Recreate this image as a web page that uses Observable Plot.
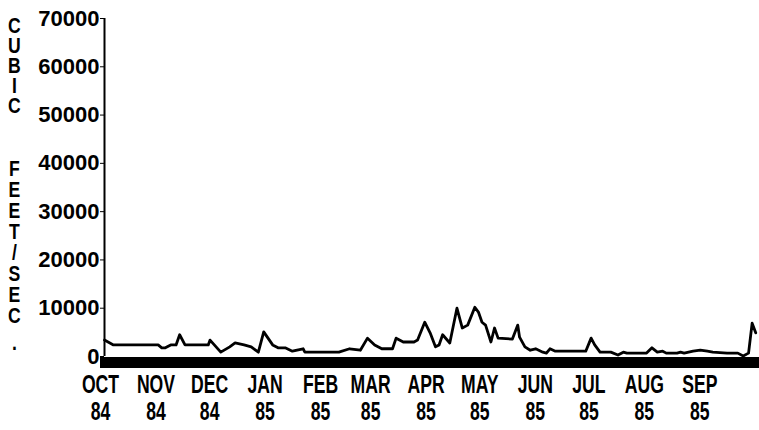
<!DOCTYPE html>
<html><head><meta charset="utf-8">
<script src="https://cdn.jsdelivr.net/npm/d3@7"></script>
<script src="https://cdn.jsdelivr.net/npm/@observablehq/plot@0.6"></script>
<style>
html,body{margin:0;padding:0;background:#fff;}
#wrap{position:relative;width:759px;height:430px;}
#chart svg{display:block;}
.ytitle{position:absolute;left:3px;writing-mode:vertical-rl;text-orientation:upright;font-family:'Liberation Sans',Arial,sans-serif;font-weight:bold;font-size:22px;line-height:22px;color:#000;white-space:nowrap;transform:scaleX(0.8);transform-origin:11px 0;}
</style></head><body><div id="wrap"><div id="chart"></div></div>
<script>
// Day offsets from 1 Oct 1984 and daily flow readings (cubic feet per second)
const dayOffsets = [0,5,30,32,34,37,40,42,45,58,59,65,70,73,78,82,86,89,94,97,101,105,111,112,131,137,143,147,151,155,161,163,167,173,175,179,182,185,187,189,193,197,200,203,207,209,211,213,216,218,220,228,231,232,235,238,241,245,247,249,252,269,272,274,277,283,287,290,292,303,306,309,312,314,320,322,324,329,333,337,340,348,354,357,360,362,364];
const flows = [3400,2400,2400,1800,1800,2400,2400,4500,2400,2400,3400,900,2000,2800,2400,2000,900,5100,2400,1800,1800,1100,1600,900,900,1600,1300,3800,2400,1600,1600,3800,3000,3000,3400,7100,4900,2000,2400,4500,2800,10000,5900,6500,10200,9200,7100,6500,3000,5900,3800,3600,6500,4000,2000,1300,1600,900,700,1600,1100,1100,3800,2400,900,900,300,900,700,700,1800,900,1100,700,700,900,700,1100,1300,1100,900,700,700,100,700,6900,4900];
const monthLabels = ["OCT\n84","NOV\n84","DEC\n84","JAN\n85","FEB\n85","MAR\n85","APR\n85","MAY\n85","JUN\n85","JUL\n85","AUG\n85","SEP\n85"];
const yTicks = [0,10000,20000,30000,40000,50000,60000,70000];
const yTitleWords = ["CUBIC", "FEET/SEC", "."];

const start = new Date(Date.UTC(1984, 9, 1));
const end = new Date(Date.UTC(1985, 9, 1));
const data = dayOffsets.map((d, i) => ({date: d3.utcDay.offset(start, d), flow: flows[i]}));
const monthStarts = d3.utcMonth.range(start, end);

const FONT = "'Liberation Sans', Arial, sans-serif";

const chart = Plot.plot({
  width: 759,
  height: 430,
  marginLeft: 104,
  marginRight: 2,
  marginTop: 18,
  marginBottom: 74,
  style: {fontFamily: FONT, fontWeight: "bold", fontSize: "22px", background: "white", color: "black", overflow: "visible"},
  x: {type: "utc", domain: [start, end], axis: null},
  y: {domain: [0, 70000], ticks: yTicks, tickFormat: d => String(d), tickSize: 4, tickPadding: 1, label: null},
  marks: [
    Plot.ruleY([0], {strokeWidth: 11, dy: 6, insetLeft: -4, insetRight: -2, stroke: "black"}),
    Plot.ruleX([start], {y1: 0, y2: 70000, strokeWidth: 2, stroke: "black"}),
    Plot.line(data, {x: "date", y: "flow", strokeWidth: 2.8, stroke: "black", strokeLinejoin: "round"}),
    Plot.text(monthStarts, {x: d => d, text: (d, i) => monthLabels[i], frameAnchor: "bottom", lineAnchor: "top", dy: 18, dx: -4, lineHeight: 1.05, fontSize: 22, fontWeight: "bold", fontFamily: FONT, fill: "black"})
  ]
});

const svg = d3.select(chart);
// condensed, tall lettering like the original plotter font
svg.selectAll("g[aria-label='text'] text").each(function() {
  const t = d3.select(this);
  t.attr("transform", (t.attr("transform") || "") + " scale(0.8,1.15)");
});

document.getElementById("chart").appendChild(chart);

// vertical stacked axis title (upright letters in a vertical text run)
const titleLayout = [{top: 13, ls: -5}, {top: 156, ls: -4}, {top: 330, ls: 0}];
const wrap = d3.select("#wrap");
yTitleWords.forEach((w, i) => {
  wrap.append("div").attr("class", "ytitle")
    .style("top", titleLayout[i].top + "px")
    .style("letter-spacing", titleLayout[i].ls + "px")
    .text(w);
});
</script>
</body></html>
